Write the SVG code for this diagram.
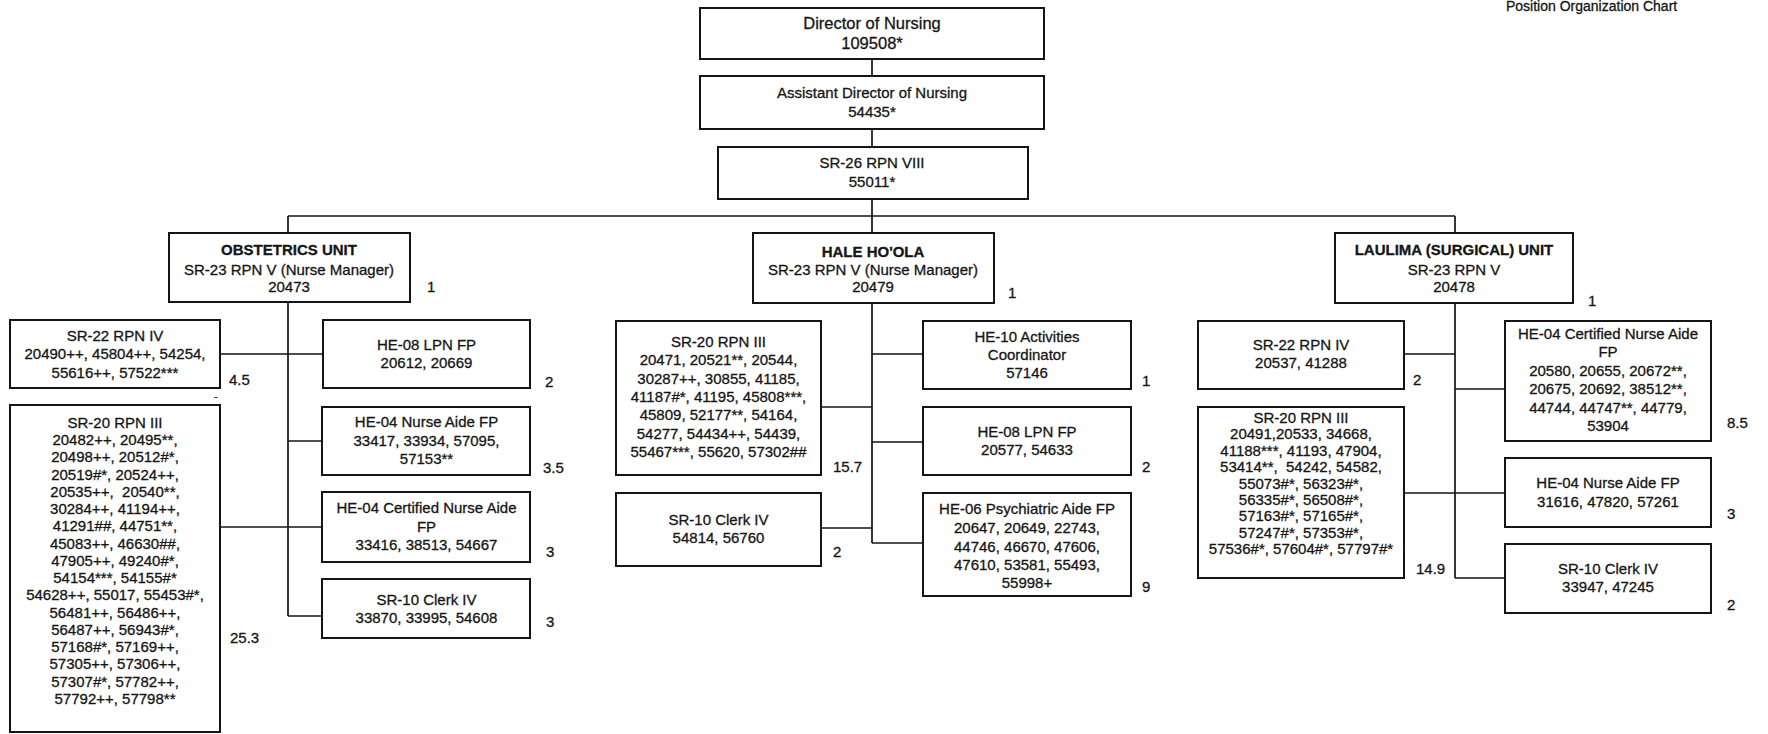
<svg xmlns="http://www.w3.org/2000/svg" width="1768" height="734" viewBox="0 0 1768 734">
<style>
.box{fill:#fff;stroke:#151515;stroke-width:2}
.c{stroke:#151515;stroke-width:1.7;fill:none}
text{font-family:"Liberation Sans",Arial,Helvetica,sans-serif;font-size:15px;fill:#151515;stroke:#151515;stroke-width:0.3;text-anchor:middle}
.b{font-weight:bold}
.n{text-anchor:start}
</style>
<rect width="1768" height="734" fill="#fff"/>
<text x="1506" y="11" class="n" style="font-size:14px">Position Organization Chart</text>

<g id="connectors">
<path class="c" d="M872 59V76M872 129V147M872 199V216M288 216H1455M288 216V233M872 216V233M1455 216V233"/>
<path class="c" d="M288 302V616M220 354H323M288 441H322M220 527H322M288 616H322"/>
<path class="c" d="M872 303V543M872 354H923M821 407H872M872 442H923M821 528H872M872 543H923"/>
<path class="c" d="M1455 303V578M1404 354H1455M1455 389H1505M1404 493H1505M1455 578H1505"/>
</g>

<g id="director">
<rect class="box" x="700" y="8" width="344" height="51"/>
<text x="872" y="29" style="font-size:16.5px">Director of Nursing</text>
<text x="872" y="49" style="font-size:16.5px">109508*</text>
</g>
<g id="assistant">
<rect class="box" x="700" y="76" width="344" height="53"/>
<text x="872" y="98">Assistant Director of Nursing</text>
<text x="872" y="117">54435*</text>
</g>
<g id="sr26">
<rect class="box" x="718" y="147" width="310" height="52"/>
<text x="872" y="168">SR-26 RPN VIII</text>
<text x="872" y="187">55011*</text>
</g>

<g id="obstetrics">
<rect class="box" x="169" y="233" width="241" height="69"/>
<text x="289" y="255" class="b">OBSTETRICS UNIT</text>
<text x="289" y="275">SR-23 RPN V (Nurse Manager)</text>
<text x="289" y="292">20473</text>
<text x="427" y="292" class="n">1</text>
</g>
<g id="obs-sr22">
<rect class="box" x="10" y="320" width="210" height="68"/>
<text x="115" y="341">SR-22 RPN IV</text>
<text x="115" y="359">20490++, 45804++, 54254,</text>
<text x="115" y="378">55616++, 57522***</text>
<text x="229" y="385" class="n">4.5</text>
<text x="214" y="400" class="n" style="font-size:11px">-</text>
</g>
<g id="obs-sr20">
<rect class="box" x="10" y="405" width="210" height="327"/>
<text x="115" y="428">SR-20 RPN III<tspan x="115" dy="17.24">20482++, 20495**,</tspan><tspan x="115" dy="17.24">20498++, 20512#*,</tspan><tspan x="115" dy="17.24">20519#*, 20524++,</tspan><tspan x="115" dy="17.24">20535++,&#160; 20540**,</tspan><tspan x="115" dy="17.24">30284++, 41194++,</tspan><tspan x="115" dy="17.24">41291##, 44751**,</tspan><tspan x="115" dy="17.24">45083++, 46630##,</tspan><tspan x="115" dy="17.24">47905++, 49240#*,</tspan><tspan x="115" dy="17.24">54154***, 54155#*</tspan><tspan x="115" dy="17.24">54628++, 55017, 55453#*,</tspan><tspan x="115" dy="17.24">56481++, 56486++,</tspan><tspan x="115" dy="17.24">56487++, 56943#*,</tspan><tspan x="115" dy="17.24">57168#*, 57169++,</tspan><tspan x="115" dy="17.24">57305++, 57306++,</tspan><tspan x="115" dy="17.24">57307#*, 57782++,</tspan><tspan x="115" dy="17.24">57792++, 57798**</tspan></text>
<text x="230" y="643" class="n">25.3</text>
</g>
<g id="obs-he08">
<rect class="box" x="323" y="320" width="207" height="68"/>
<text x="426.5" y="350">HE-08 LPN FP</text>
<text x="426.5" y="368">20612, 20669</text>
<text x="545" y="387" class="n">2</text>
</g>
<g id="obs-he04na">
<rect class="box" x="322" y="407" width="208" height="68"/>
<text x="426.5" y="427">HE-04 Nurse Aide FP</text>
<text x="426.5" y="446">33417, 33934, 57095,</text>
<text x="426.5" y="464">57153**</text>
<text x="543" y="473" class="n">3.5</text>
</g>
<g id="obs-he04cna">
<rect class="box" x="322" y="492" width="208" height="70"/>
<text x="426.5" y="513">HE-04 Certified Nurse Aide</text>
<text x="426.5" y="532">FP</text>
<text x="426.5" y="550">33416, 38513, 54667</text>
<text x="546" y="557" class="n">3</text>
</g>
<g id="obs-sr10">
<rect class="box" x="322" y="579" width="208" height="59"/>
<text x="426.5" y="605">SR-10 Clerk IV</text>
<text x="426.5" y="623">33870, 33995, 54608</text>
<text x="546" y="627" class="n">3</text>
</g>

<g id="hale">
<rect class="box" x="753" y="233" width="241" height="70"/>
<text x="873" y="257" class="b">HALE HO'OLA</text>
<text x="873" y="275">SR-23 RPN V (Nurse Manager)</text>
<text x="873" y="292">20479</text>
<text x="1008" y="298" class="n">1</text>
</g>
<g id="hale-sr20">
<rect class="box" x="616" y="321" width="205" height="154"/>
<text x="718.5" y="347">SR-20 RPN III<tspan x="718.5" dy="18.3">20471, 20521**, 20544,</tspan><tspan x="718.5" dy="18.3">30287++, 30855, 41185,</tspan><tspan x="718.5" dy="18.3">41187#*, 41195, 45808***,</tspan><tspan x="718.5" dy="18.3">45809, 52177**, 54164,</tspan><tspan x="718.5" dy="18.3">54277, 54434++, 54439,</tspan><tspan x="718.5" dy="18.3">55467***, 55620, 57302##</tspan></text>
<text x="833" y="472" class="n">15.7</text>
</g>
<g id="hale-sr10">
<rect class="box" x="616" y="493" width="205" height="73"/>
<text x="718.5" y="525">SR-10 Clerk IV</text>
<text x="718.5" y="543">54814, 56760</text>
<text x="833" y="557" class="n">2</text>
</g>
<g id="hale-he10">
<rect class="box" x="923" y="321" width="208" height="68"/>
<text x="1027" y="342">HE-10 Activities</text>
<text x="1027" y="360">Coordinator</text>
<text x="1027" y="378">57146</text>
<text x="1142" y="386" class="n">1</text>
</g>
<g id="hale-he08">
<rect class="box" x="923" y="407" width="208" height="68"/>
<text x="1027" y="437">HE-08 LPN FP</text>
<text x="1027" y="455">20577, 54633</text>
<text x="1142" y="472" class="n">2</text>
</g>
<g id="hale-he06">
<rect class="box" x="923" y="493" width="208" height="103"/>
<text x="1027" y="514">HE-06 Psychiatric Aide FP</text>
<text x="1027" y="533">20647, 20649, 22743,</text>
<text x="1027" y="552">44746, 46670, 47606,</text>
<text x="1027" y="570">47610, 53581, 55493,</text>
<text x="1027" y="588">55998+</text>
<text x="1142" y="592" class="n">9</text>
</g>

<g id="laulima">
<rect class="box" x="1335" y="233" width="238" height="70"/>
<text x="1454" y="255" class="b">LAULIMA (SURGICAL) UNIT</text>
<text x="1454" y="275">SR-23 RPN V</text>
<text x="1454" y="292">20478</text>
<text x="1588" y="306" class="n">1</text>
</g>
<g id="lau-sr22">
<rect class="box" x="1198" y="321" width="206" height="68"/>
<text x="1301" y="350">SR-22 RPN IV</text>
<text x="1301" y="368">20537, 41288</text>
<text x="1413" y="385" class="n">2</text>
</g>
<g id="lau-sr20">
<rect class="box" x="1198" y="407" width="206" height="171"/>
<text x="1301" y="423">SR-20 RPN III<tspan x="1301" dy="16.4">20491,20533, 34668,</tspan><tspan x="1301" dy="16.4">41188***, 41193, 47904,</tspan><tspan x="1301" dy="16.4">53414**,&#160; 54242, 54582,</tspan><tspan x="1301" dy="16.4">55073#*, 56323#*,</tspan><tspan x="1301" dy="16.4">56335#*, 56508#*,</tspan><tspan x="1301" dy="16.4">57163#*, 57165#*,</tspan><tspan x="1301" dy="16.4">57247#*, 57353#*,</tspan><tspan x="1301" dy="16.4">57536#*, 57604#*, 57797#*</tspan></text>
<text x="1416" y="574" class="n">14.9</text>
</g>
<g id="lau-he04cna">
<rect class="box" x="1505" y="321" width="206" height="120"/>
<text x="1608" y="339">HE-04 Certified Nurse Aide<tspan x="1608" dy="18.4">FP</tspan><tspan x="1608" dy="18.4">20580, 20655, 20672**,</tspan><tspan x="1608" dy="18.4">20675, 20692, 38512**,</tspan><tspan x="1608" dy="18.4">44744, 44747**, 44779,</tspan><tspan x="1608" dy="18.4">53904</tspan></text>
<text x="1727" y="428" class="n">8.5</text>
</g>
<g id="lau-he04na">
<rect class="box" x="1505" y="458" width="206" height="69"/>
<text x="1608" y="488">HE-04 Nurse Aide FP</text>
<text x="1608" y="507">31616, 47820, 57261</text>
<text x="1727" y="519" class="n">3</text>
</g>
<g id="lau-sr10">
<rect class="box" x="1505" y="544" width="206" height="69"/>
<text x="1608" y="574">SR-10 Clerk IV</text>
<text x="1608" y="592">33947, 47245</text>
<text x="1727" y="610" class="n">2</text>
</g>
</svg>
